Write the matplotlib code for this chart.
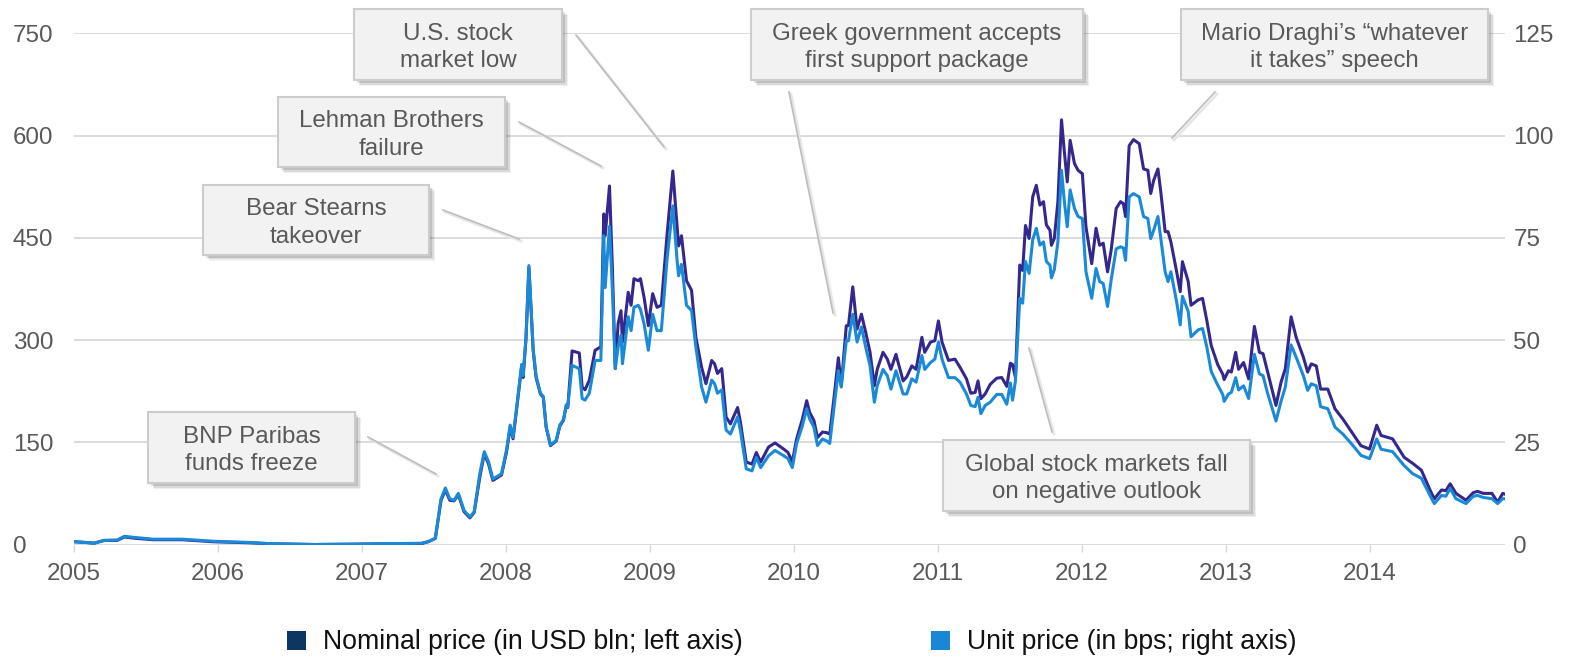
import matplotlib.pyplot as plt
from matplotlib.patches import Rectangle
from matplotlib.lines import Line2D

# CDS market volume: nominal (USD bln, left axis) and unit price (bps, right axis)
years = [
    2005.00, 2005.08, 2005.14, 2005.21, 2005.30, 2005.35, 2005.43, 2005.55, 2005.75, 2005.97,
    2006.22, 2006.37, 2006.67, 2006.97, 2007.14, 2007.41, 2007.46, 2007.51, 2007.55, 2007.58,
    2007.61, 2007.64, 2007.67, 2007.71, 2007.75, 2007.78, 2007.82, 2007.85, 2007.88, 2007.91,
    2007.97, 2008.005, 2008.03, 2008.05, 2008.07, 2008.11, 2008.12, 2008.14, 2008.16, 2008.19,
    2008.21, 2008.24, 2008.26, 2008.28, 2008.31, 2008.35, 2008.375, 2008.40, 2008.42, 2008.43,
    2008.46, 2008.51, 2008.53, 2008.55, 2008.58, 2008.62, 2008.66, 2008.68, 2008.69, 2008.72,
    2008.74, 2008.76, 2008.78, 2008.80, 2008.81, 2008.85, 2008.87, 2008.89, 2008.92, 2008.935,
    2008.96, 2008.99, 2009.02, 2009.05, 2009.08, 2009.12, 2009.16, 2009.19, 2009.20, 2009.22,
    2009.255, 2009.29, 2009.32, 2009.36, 2009.39, 2009.43, 2009.45, 2009.47, 2009.50, 2009.53,
    2009.56, 2009.61, 2009.63, 2009.67, 2009.71, 2009.74, 2009.77, 2009.825, 2009.87, 2009.93,
    2009.96, 2009.99, 2010.02, 2010.06, 2010.09, 2010.11, 2010.14, 2010.165, 2010.20, 2010.23,
    2010.25, 2010.28, 2010.31, 2010.33, 2010.365, 2010.38, 2010.41, 2010.44, 2010.47, 2010.50,
    2010.53, 2010.56, 2010.58, 2010.62, 2010.65, 2010.675, 2010.71, 2010.76, 2010.785, 2010.82,
    2010.85, 2010.89, 2010.91, 2010.95, 2010.98, 2011.005, 2011.03, 2011.075, 2011.12, 2011.155,
    2011.20, 2011.23, 2011.26, 2011.28, 2011.30, 2011.33, 2011.365, 2011.41, 2011.445, 2011.48,
    2011.505, 2011.52, 2011.54, 2011.57, 2011.59, 2011.61, 2011.635, 2011.66, 2011.685, 2011.71,
    2011.735, 2011.755, 2011.78, 2011.79, 2011.81, 2011.835, 2011.86, 2011.88, 2011.90, 2011.92,
    2011.95, 2011.975, 2012.005, 2012.03, 2012.07, 2012.10, 2012.125, 2012.15, 2012.18, 2012.205,
    2012.24, 2012.27, 2012.29, 2012.305, 2012.33, 2012.36, 2012.40, 2012.43, 2012.46, 2012.48,
    2012.50, 2012.53, 2012.55, 2012.58, 2012.60, 2012.62, 2012.66, 2012.685, 2012.70, 2012.74,
    2012.76, 2012.81, 2012.84, 2012.87, 2012.90, 2012.945, 2012.98, 2012.99, 2013.02, 2013.04,
    2013.07, 2013.09, 2013.125, 2013.16, 2013.20, 2013.235, 2013.26, 2013.29, 2013.35, 2013.385,
    2013.415, 2013.455, 2013.49, 2013.54, 2013.57, 2013.595, 2013.63, 2013.66, 2013.71, 2013.76,
    2013.815, 2013.885, 2013.94, 2014.00, 2014.05, 2014.08, 2014.16, 2014.24, 2014.30, 2014.36,
    2014.42, 2014.45, 2014.50, 2014.53, 2014.56, 2014.60, 2014.67, 2014.72, 2014.75, 2014.79,
    2014.85, 2014.89, 2014.925, 2014.95,
]

nominal_usd_bn = [
    4, 3, 2, 6, 6, 11, 9, 7, 7, 4,
    2.5, 1, 0, 0.5, 1, 1, 4, 9, 65, 80,
    65, 64, 73, 48, 39, 47, 100, 133, 118, 94,
    102, 136, 172, 155, 190, 262, 245, 302, 407, 284,
    245, 221, 216, 172, 145, 152, 174, 182, 204, 201,
    284, 281, 231, 227, 241, 285, 290, 485, 453, 526,
    407, 258, 324, 343, 297, 370, 351, 390, 387, 390,
    363, 321, 368, 348, 351, 455, 548, 465, 438, 453,
    387, 373, 304, 260, 236, 270, 265, 251, 258, 187,
    177, 201, 179, 121, 118, 135, 121, 143, 149, 140,
    135, 121, 155, 184, 211, 194, 182, 157, 165, 164,
    162, 216, 274, 233, 321, 321, 378, 316, 338, 311,
    282, 233, 257, 282, 272, 257, 279, 240, 246, 262,
    257, 304, 282, 297, 299, 328, 297, 270, 272, 260,
    243, 222, 223, 240, 214, 221, 235, 244, 245, 232,
    266, 264, 245, 410, 402, 468, 449, 510, 527, 498,
    503, 469, 461, 439, 449, 503, 623, 576, 532, 593,
    559, 549, 544, 466, 412, 464, 439, 442, 400, 432,
    493, 503, 500, 481, 585, 594, 588, 551, 549, 515,
    534, 551, 517, 459, 459, 444, 400, 371, 415, 386,
    351, 359, 361, 328, 292, 264, 250, 242, 255, 253,
    282, 257, 267, 243, 320, 282, 280, 255, 204, 238,
    258, 334, 304, 275, 253, 265, 262, 228, 228, 199,
    184, 162, 145, 140, 175, 160, 155, 128, 119, 109,
    80, 67, 80, 79, 89, 75, 65, 76, 78, 75,
    75, 62, 75, 73,
]

unit_bps = [
    0.7, 0.5, 0.3, 1.0, 1.1, 2.0, 1.7, 1.3, 1.3, 0.8,
    0.5, 0.2, 0.0, 0.1, 0.2, 0.3, 0.7, 1.5, 11.2, 13.8,
    11.2, 10.8, 12.5, 8.3, 6.7, 8.0, 17.5, 22.7, 20.2, 16.0,
    17.3, 23.2, 29.2, 26.2, 32.0, 44.0, 41.3, 50.7, 68.2, 47.7,
    41.2, 37.0, 36.2, 28.8, 24.3, 25.5, 29.2, 30.5, 34.2, 33.7,
    43.8, 43.0, 35.7, 35.3, 37.0, 45.0, 45.0, 75.5, 62.8, 77.8,
    62.2, 43.0, 48.3, 51.2, 44.2, 55.7, 52.3, 58.0, 58.5, 57.5,
    54.0, 47.5, 56.3, 52.3, 52.3, 69.8, 82.8, 69.3, 65.7, 68.5,
    58.5, 57.2, 48.3, 38.5, 34.8, 40.2, 39.3, 37.0, 37.8, 28.0,
    27.0, 31.2, 27.8, 18.5, 18.0, 21.3, 18.8, 21.7, 23.0, 21.7,
    21.0, 18.8, 24.7, 29.0, 33.2, 30.7, 28.7, 24.2, 25.8, 25.3,
    24.7, 33.5, 42.5, 38.5, 49.8, 49.8, 56.3, 49.5, 53.2, 48.2,
    43.7, 34.8, 38.8, 42.8, 41.3, 38.0, 42.5, 36.8, 36.8, 40.5,
    39.7, 46.2, 42.8, 44.5, 45.3, 49.5, 45.3, 40.8, 40.8, 39.7,
    36.8, 34.0, 33.7, 36.0, 32.0, 34.0, 34.8, 36.7, 36.7, 34.3,
    39.5, 35.3, 40.0, 60.2, 59.0, 69.2, 66.3, 74.5, 77.3, 73.2,
    74.0, 69.2, 68.3, 65.2, 67.2, 74.0, 91.5, 83.8, 77.7, 86.7,
    82.2, 80.2, 79.7, 66.7, 60.2, 67.5, 64.3, 63.8, 58.2, 64.7,
    72.3, 72.8, 72.5, 69.5, 85.0, 85.8, 85.0, 80.2, 79.7, 74.8,
    76.8, 80.2, 74.8, 66.7, 64.3, 66.7, 59.3, 53.7, 60.7, 57.0,
    50.8, 52.5, 52.8, 48.2, 42.3, 39.0, 36.7, 35.0, 36.8, 37.2,
    40.8, 37.8, 38.8, 35.7, 46.5, 41.7, 41.3, 37.2, 30.2, 35.0,
    38.5, 48.8, 45.8, 41.3, 37.7, 39.3, 38.8, 33.7, 33.2, 28.7,
    27.0, 24.2, 21.8, 21.0, 25.8, 23.3, 22.7, 19.3, 17.3, 16.2,
    12.0, 10.0, 12.0, 11.8, 13.7, 11.2, 10.0, 11.8, 12.0, 11.5,
    11.2, 10.0, 11.2, 11.2,
]

year_ticks = list(range(2005, 2015))
left_ticks = [0, 150, 300, 450, 600, 750]
right_ticks = [0, 25, 50, 75, 100, 125]

events = [
    ("BNP Paribas\nfunds freeze", (148, 412, 355, 483), ((368, 437), (436, 474))),
    ("Bear Stearns\ntakeover", (203, 185, 429, 255), ((443, 210), (519, 239))),
    ("Lehman Brothers\nfailure", (278, 97, 505, 167), ((519, 122), (601, 166))),
    ("U.S. stock\nmarket low", (354, 9, 562, 80), ((576, 35), (664, 147))),
    ("Greek government accepts\nfirst support package", (751, 9, 1083, 80), ((789, 92), (833, 313))),
    ("Global stock markets fall\non negative outlook", (943, 440, 1250, 511), ((1029, 348), (1052, 432))),
    ("Mario Draghi\u2019s \u201cwhatever\nit takes\u201d speech", (1181, 9, 1488, 80), ((1215, 92), (1172, 138))),
]

DARK = "#35288c"
BLUE = "#1a8ad8"
GRID = "#d9d9d9"
TEXT = "#595959"
FS = 17.4

W, H = 1581, 657
plt.rcParams["font.family"] = ["Liberation Sans", "DejaVu Sans"]

fig = plt.figure(figsize=(W / 100, H / 100), dpi=100)


def fx(px):
    return px / W


def fy(py):
    return 1 - py / H


x0, x1, y0, y1 = 74, 1505, 544.5, 33.3
ax = fig.add_axes([fx(x0), fy(y0), fx(x1 - x0), (y0 - y1) / H])
ax2 = ax.twinx()

ax.plot(years, nominal_usd_bn, color=DARK, lw=2.2, solid_joinstyle="round")
ax2.plot(years, unit_bps, color=BLUE, lw=2.2, solid_joinstyle="round")

ax.set_xlim(2005, 2005 + (x1 - x0) / 143.95)
ax.set_ylim(0, 750)
ax2.set_ylim(0, 125)
ax.set_xticks(year_ticks)
ax.set_xticklabels([str(y) for y in year_ticks])
ax.set_yticks(left_ticks)
ax.set_yticklabels([str(v) for v in left_ticks], ha="left")
ax2.set_yticks(right_ticks)
ax2.set_yticklabels([str(v) for v in right_ticks])

ax.grid(axis="y", color=GRID, lw=1.3)
ax.set_axisbelow(True)
for a in (ax, ax2):
    for side in ("top", "left", "right", "bottom"):
        a.spines[side].set_visible(False)
ax.tick_params(axis="x", length=5, width=1, color=GRID, pad=8, labelsize=FS, labelcolor=TEXT)
ax.tick_params(axis="y", length=0, pad=44, labelsize=FS, labelcolor=TEXT)
ax2.tick_params(axis="y", length=0, pad=6, labelsize=FS, labelcolor=TEXT)

# annotation boxes with soft drop shadow and leader lines
for label, (bx0, by0, bx1, by1), ((lx0, ly0), (lx1, ly1)) in events:
    for k, alpha in zip((6, 4.5, 3), (0.06, 0.09, 0.12)):
        fig.add_artist(Rectangle((fx(bx0 + k), fy(by1 + k)), fx(bx1 - bx0), (by1 - by0) / H,
                                 transform=fig.transFigure, facecolor="black", alpha=alpha,
                                 edgecolor="none", zorder=5))
    fig.add_artist(Rectangle((fx(bx0), fy(by1)), fx(bx1 - bx0), (by1 - by0) / H,
                             transform=fig.transFigure, facecolor="#f2f2f2",
                             edgecolor="#cccccc", lw=1.5, zorder=6))
    fig.text(fx((bx0 + bx1) / 2), fy((by0 + by1) / 2 + 3), label, ha="center", va="center",
             fontsize=FS, color=TEXT, linespacing=1.33, zorder=7)
    fig.add_artist(Line2D([fx(lx0 + 2), fx(lx1 + 2)], [fy(ly0 + 2), fy(ly1 + 2)],
                          transform=fig.transFigure, color="#e6e6e6", lw=2, zorder=4))
    fig.add_artist(Line2D([fx(lx0), fx(lx1)], [fy(ly0), fy(ly1)],
                          transform=fig.transFigure, color="#bdbdbd", lw=1.2, zorder=5))

# legend
legend_items = [
    ("Nominal price (in USD bln; left axis)", "#0d3760", 287, 323),
    ("Unit price (in bps; right axis)", "#1a86d6", 931, 967),
]
for text, color, sx, tx in legend_items:
    fig.add_artist(Rectangle((fx(sx), fy(650)), fx(19), 19 / H, transform=fig.transFigure,
                             facecolor=color, edgecolor="none"))
    fig.text(fx(tx), fy(642), text, ha="left", va="center", fontsize=19.2, color="#111111")

fig.savefig("out.png", dpi=100)
